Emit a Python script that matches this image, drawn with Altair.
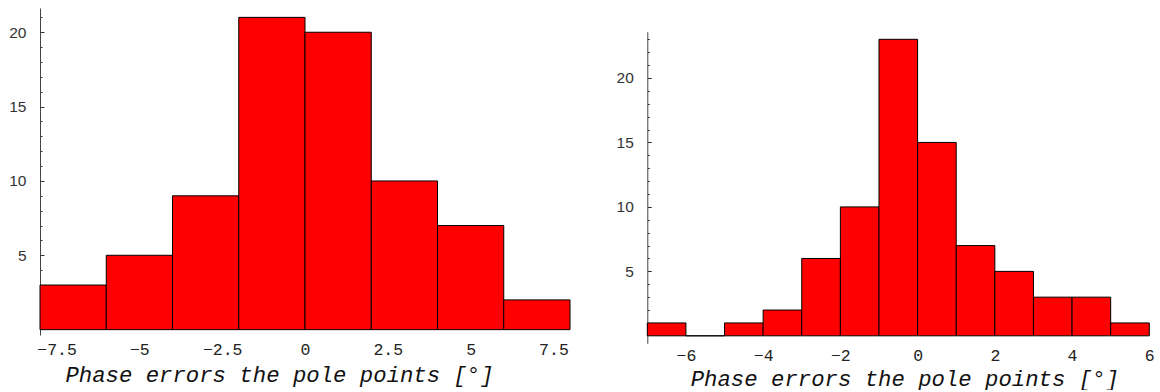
import altair as alt
import pandas as pd

TITLE = "Phase errors the pole points [°]"

# Left histogram (bins of width 2)
left_bin_start = [-8, -6, -4, -2, 0, 2, 4, 6]
left_bin_end = [-6, -4, -2, 0, 2, 4, 6, 8]
left_counts = [3, 5, 9, 21, 20, 10, 7, 2]
left_xticks = [-7.5, -5, -2.5, 0, 2.5, 5, 7.5]
left_minor = list(range(1, 22))

# Right histogram (bins of width 1)
right_bin_start = [-7, -6, -5, -4, -3, -2, -1, 0, 1, 2, 3, 4, 5]
right_bin_end = [-6, -5, -4, -3, -2, -1, 0, 1, 2, 3, 4, 5, 6]
right_counts = [1, 0, 1, 2, 6, 10, 23, 15, 7, 5, 3, 3, 1]
right_xticks = [-6, -4, -2, 0, 2, 4, 6]
right_minor = list(range(1, 24))

y_major = [5, 10, 15, 20]


def histogram(starts, ends, counts, xdom, ydom, width, height, yrange,
              xticks, minor, label_pad, title_x, title_y):
    df = pd.DataFrame({"start": starts, "end": ends, "count": counts})
    xscale = alt.Scale(domain=xdom, nice=False, zero=False)
    yscale = alt.Scale(domain=ydom, nice=False, zero=False, range=yrange)
    bars = alt.Chart(df).mark_rect(fill="#ff0000", stroke="black", strokeWidth=1).encode(
        x=alt.X("start:Q", scale=xscale, axis=alt.Axis(
            values=xticks, title=TITLE, domain=False, ticks=False, tickSize=0, grid=False,
            labelPadding=label_pad, labelBaseline="alphabetic", labelFlush=False,
            labelOverlap=False, labelFont="Liberation Mono", labelFontSize=16.5,
            labelColor="#222", labelExpr="format(datum.value, '~g')",
            titleFont="Liberation Mono", titleFontStyle="italic", titleFontWeight="normal",
            titleFontSize=22.3, titleColor="#111", titleX=title_x, titleY=title_y,
            titleAlign="center", titleBaseline="alphabetic")),
        x2="end:Q",
        y=alt.Y("count:Q", scale=yscale, axis=alt.Axis(
            values=y_major, title=None, grid=False, ticks=False, tickSize=0,
            domain=True, domainColor="#444", domainWidth=1,
            labelPadding=14, labelFont="Liberation Sans", labelFontSize=15.5,
            labelColor="#333")),
        y2=alt.datum(0),
    )
    tick_layer = alt.Chart(df).mark_rect(opacity=0).encode(
        x=alt.X("start:Q", scale=xscale, axis=None),
        x2="end:Q",
        y=alt.Y("count:Q", scale=yscale, axis=alt.Axis(
            orient="right", offset=-width, values=minor, labels=False, domain=False,
            grid=False, title=None, tickColor="#333", tickWidth=1,
            tickSize={"condition": {"test": "datum.value % 5 === 0", "value": 4}, "value": 2})),
        y2=alt.datum(0),
    )
    return (alt.layer(bars, tick_layer)
            .resolve_axis(x="independent", y="independent")
            .properties(width=width, height=height))


left = histogram(left_bin_start, left_bin_end, left_counts,
                 [-8, 8], [-0.36, 21.63], 530, 327, [327, 0],
                 left_xticks, left_minor, 19.3, 239, 46)

right = histogram(right_bin_start, right_bin_end, right_counts,
                  [-7, 6], [-0.58, 23.59], 502, 335.3, [335.3, 23.7],
                  right_xticks, right_minor, 17, 257, 42)

chart = (alt.hconcat(left, right, spacing=44.3)
         .properties(padding={"left": 8, "top": 8, "right": 5, "bottom": 0},
                     background="white")
         .configure_view(stroke=None))

chart.save("out.html", embed_options={"renderer": "svg", "actions": False})
